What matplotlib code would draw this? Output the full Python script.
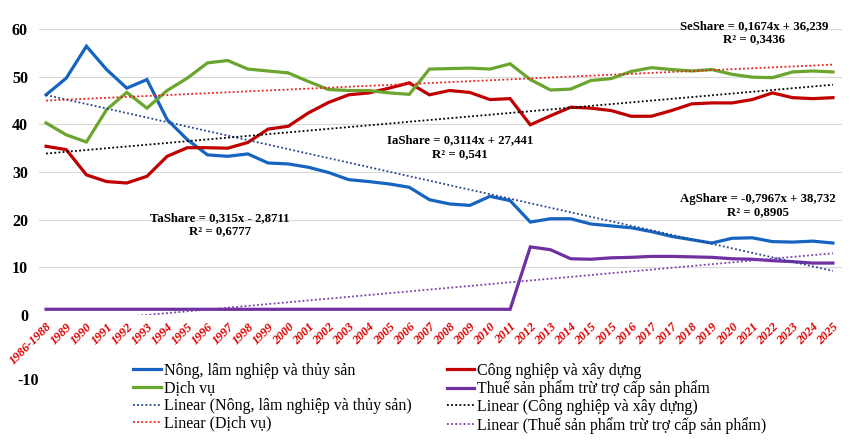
# co cau GDP theo nganh (%), 1986-2025, kem duong xu huong tuyen tinh
import numpy as np
import matplotlib
matplotlib.use("Agg")
import matplotlib.pyplot as plt

years = ["1986-1988", "1989", "1990", "1991", "1992", "1993", "1994", "1995", "1996", "1997",
         "1998", "1999", "2000", "2001", "2002", "2003", "2004", "2005", "2006", "2007",
         "2008", "2009", "2010", "2011", "2012", "2013", "2014", "2015", "2015", "2016",
         "2017", "2017", "2018", "2019", "2020", "2021", "2022", "2023", "2024", "2025"]

nong_nghiep = [46.2, 49.7, 56.4, 51.5, 47.6, 49.4, 41.0, 36.8, 33.6, 33.3,
               33.8, 31.9, 31.7, 31.0, 29.9, 28.4, 28.0, 27.5, 26.8, 24.2,
               23.3, 23.0, 24.9, 24.0, 19.5, 20.2, 20.2, 19.1, 18.7, 18.3,
               17.5, 16.5, 15.8, 15.1, 16.1, 16.2, 15.4, 15.3, 15.5, 15.1]

cong_nghiep = [35.4, 34.7, 29.4, 28.0, 27.7, 29.1, 33.3, 35.1, 35.1, 35.0,
               36.2, 39.0, 39.6, 42.4, 44.6, 46.2, 46.6, 47.6, 48.7, 46.2,
               47.1, 46.7, 45.2, 45.4, 39.9, 41.8, 43.6, 43.4, 42.9, 41.7,
               41.7, 42.9, 44.3, 44.5, 44.5, 45.2, 46.6, 45.6, 45.4, 45.6]

dich_vu = [40.3, 37.8, 36.3, 43.1, 46.7, 43.4, 47.1, 49.7, 52.9, 53.4,
           51.6, 51.2, 50.8, 49.0, 47.3, 47.1, 47.1, 46.6, 46.3, 51.6,
           51.7, 51.8, 51.6, 52.7, 49.4, 47.2, 47.4, 49.2, 49.6, 51.1,
           51.9, 51.5, 51.2, 51.5, 50.5, 49.9, 49.8, 51.0, 51.2, 51.0]

thue = [1.2] * 24 + [14.3, 13.7, 11.8, 11.7, 12.0, 12.1, 12.3, 12.3, 12.2, 12.1,
                     11.8, 11.7, 11.4, 11.2, 10.9, 10.9]

names = ["Nông, lâm nghiệp và thủy sản", "Công nghiệp và xây dựng",
         "Dịch vụ", "Thuế sản phẩm trừ trợ cấp sản phẩm"]
colors = ["#1565C0", "#C00000", "#6AA52E", "#7030A0"]
trend_colors = ["#24438F", "#000000", "#E8201C", "#7A3DB0"]

plt.rcParams['font.family'] = ['Liberation Serif', 'DejaVu Serif']

fig = plt.figure(figsize=(8.5, 4.42), dpi=100)
ax = fig.add_axes([0.0459, 0.2873, 0.9447, 0.647])

x = np.arange(len(years))
series = [nong_nghiep, cong_nghiep, dich_vu, thue]
lines = []
trends = []
for s, name, c in zip(series, names, colors):
    l, = ax.plot(x, s, color=c, lw=2.3, label=name, solid_joinstyle='miter', zorder=3)
    lines.append(l)
for s, name, tc in zip(series, names, trend_colors):
    k, b = np.polyfit(x, s, 1)
    t, = ax.plot(x, k * x + b, color=tc, lw=1.3, linestyle=(0, (1, 1.3)),
                 label="Linear (%s)" % name, zorder=4)
    trends.append(t)

ax.set_xlim(-0.35, 39.45)
ax.set_ylim(0, 60)
ax.set_yticks([0, 10, 20, 30, 40, 50, 60])
ax.yaxis.grid(True, color="#d9d9d9", lw=0.8)
ax.set_axisbelow(True)
for sp in ax.spines.values():
    sp.set_visible(False)
ax.tick_params(axis='y', length=0, pad=8, labelsize=11.5)
for lab in ax.get_yticklabels():
    lab.set_fontweight('bold')
ax.set_xticks(x)
ax.set_xticklabels(years, rotation=45, ha='right', rotation_mode='anchor',
                   color="#E00000", fontsize=9, fontweight='bold', fontstyle='italic')
ax.tick_params(axis='x', length=0, pad=4)

fig.text(0.021, 1 - 381 / 442, "-10", fontsize=11.5, fontweight='bold', ha='left', va='center')

# trendline equations
eq = [("SeShare = 0,1674x + 36,239\nR² = 0,3436", 35.1, 59.3),
      ("IaShare = 0,3114x + 27,441\nR² = 0,541", 20.5, 35.2),
      ("TaShare = 0,315x - 2,8711\nR² = 0,6777", 8.6, 18.9),
      ("AgShare = -0,7967x + 38,732\nR² = 0,8905", 35.3, 22.9)]
for txt, tx, ty in eq:
    ax.text(tx, ty, txt, ha='center', va='center', fontsize=9.2, fontweight='bold',
            linespacing=1.15, clip_on=False)

order = [lines[0], lines[2], trends[0], trends[2], lines[1], lines[3], trends[1], trends[3]]
fig.legend(handles=order, labels=[h.get_label() for h in order], ncol=2,
           loc='upper left', bbox_to_anchor=(0.157, 1 - 363 / 442), frameon=False,
           fontsize=11.5, handlelength=1.7, handletextpad=0.2, columnspacing=2.2,
           labelspacing=0.1, borderaxespad=0, borderpad=0)

fig.savefig("out.png", dpi=100)
